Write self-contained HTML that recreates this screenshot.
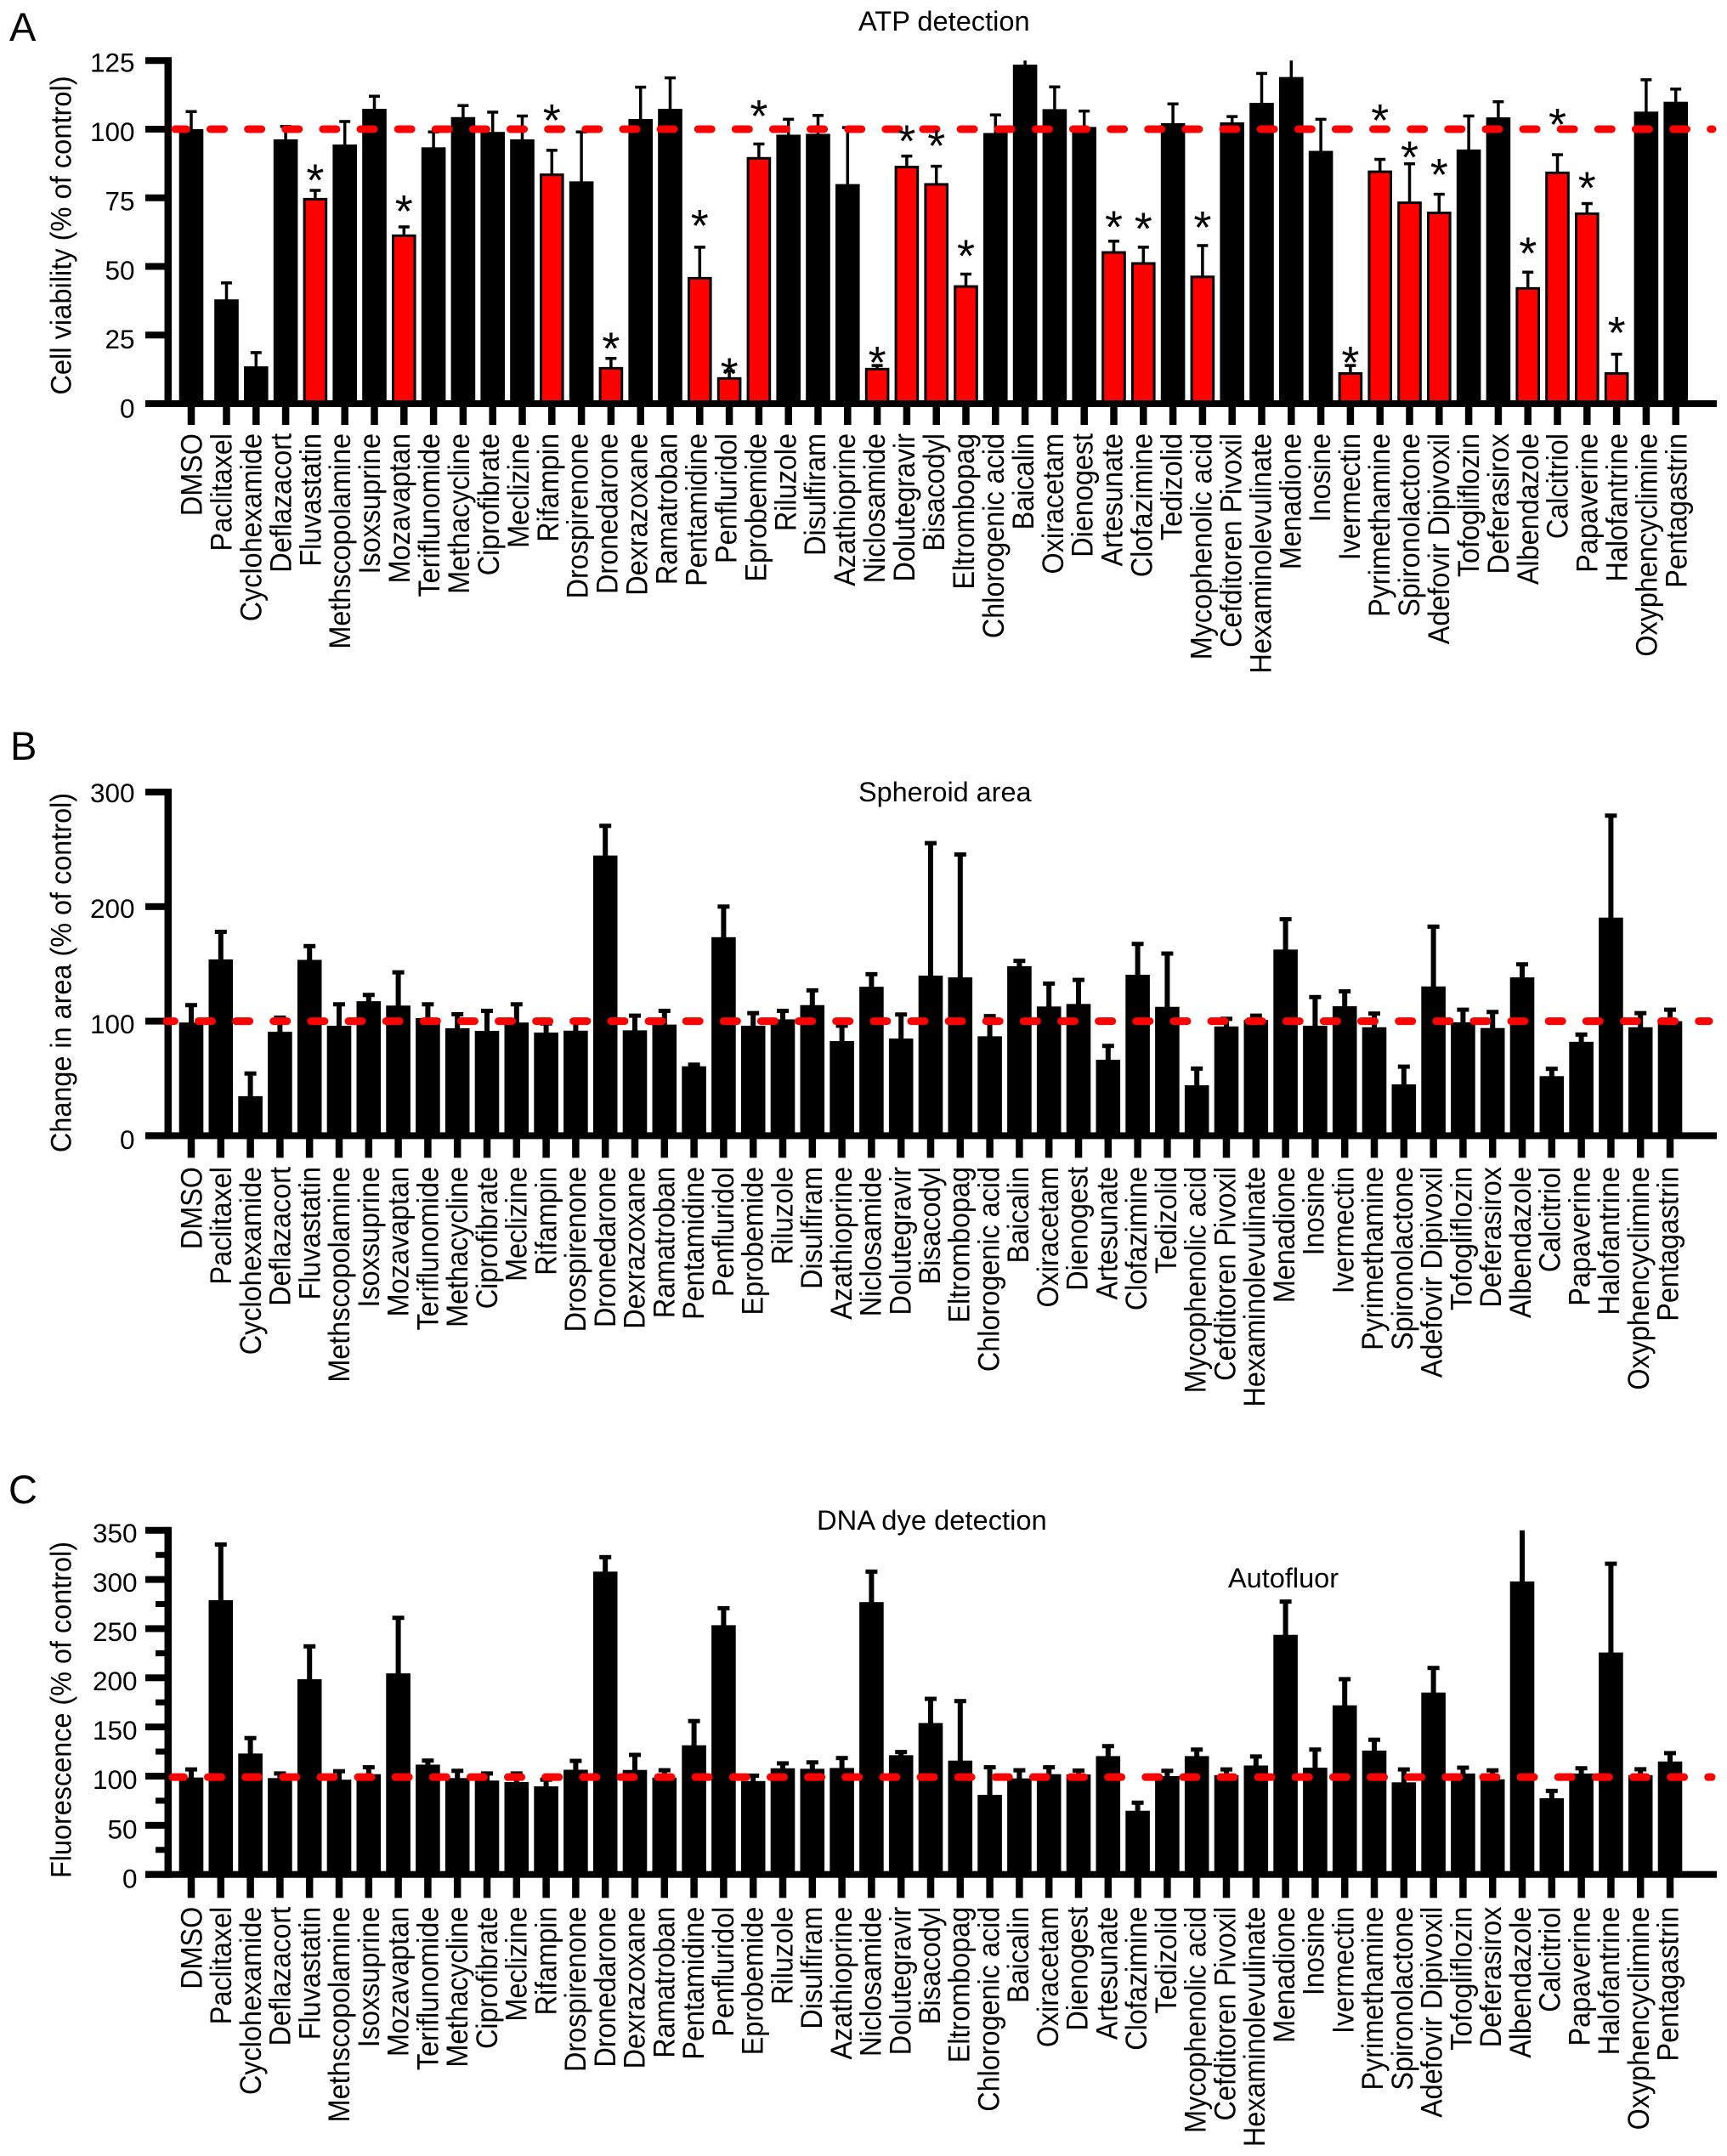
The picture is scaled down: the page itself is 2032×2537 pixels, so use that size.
<!DOCTYPE html>
<html lang="en">
<head>
<meta charset="utf-8">
<title>ATP detection, spheroid area and DNA dye detection</title>
<style>
html,body{margin:0;padding:0;background:#fff;}
svg{display:block;font-family:"Liberation Sans",Arial,sans-serif;}
</style>
</head>
<body>
<svg id="figure" xmlns="http://www.w3.org/2000/svg" width="2032" height="2537" viewBox="0 0 2032 2537">
  <rect x="0" y="0" width="2032" height="2537" fill="#fff"/>
  <text x="11" y="48" font-size="47">A</text>
  <text x="12" y="894" font-size="47">B</text>
  <text x="10" y="1769" font-size="47">C</text>
  <text x="1010" y="36" font-size="32.6">ATP detection</text>
  <text x="1010" y="943" font-size="32.4">Spheroid area</text>
  <text x="961" y="1800" font-size="32.7">DNA dye detection</text>
  <text x="1445" y="1868" font-size="32.5">Autofluor</text>
  <text transform="translate(83.5,277) rotate(-90) scale(.96,1)" text-anchor="middle" font-size="34">Cell viability (% of control)</text>
  <text transform="translate(83.5,1144.5) rotate(-90) scale(.953,1)" text-anchor="middle" font-size="34">Change in area (% of control)</text>
  <text transform="translate(83.5,2012) rotate(-90) scale(.953,1)" text-anchor="middle" font-size="34">Fluorescence (% of control)</text>
</svg>
<script>
var categories = ["DMSO","Paclitaxel","Cyclohexamide","Deflazacort","Fluvastatin","Methscopolamine","Isoxsuprine","Mozavaptan","Teriflunomide","Methacycline","Ciprofibrate","Meclizine","Rifampin","Drospirenone","Dronedarone","Dexrazoxane","Ramatroban","Pentamidine","Penfluridol","Eprobemide","Riluzole","Disulfiram","Azathioprine","Niclosamide","Dolutegravir","Bisacodyl","Eltrombopag","Chlorogenic acid","Baicalin","Oxiracetam","Dienogest","Artesunate","Clofazimine","Tedizolid","Mycophenolic acid","Cefditoren Pivoxil","Hexaminolevulinate","Menadione","Inosine","Ivermectin","Pyrimethamine","Spironolactone","Adefovir Dipivoxil","Tofogliflozin","Deferasirox","Albendazole","Calcitriol","Papaverine","Halofantrine","Oxyphencyclimine","Pentagastrin"];

var valuesA = [100,38,13.6,96.3,74.8,94.4,107.4,61.5,93.4,104.4,99,96.3,83.7,81,13.2,103.7,107.4,46,9.5,89.7,98,98.3,80,12.9,86.5,80.2,43,98.6,123.5,107.3,100.8,55.4,51.4,102.2,46.5,102.5,109.6,119,92.1,11.3,84.8,73.5,69.8,92.6,104.3,42.3,84.4,69.5,11.3,106.4,110];
var errorTopA = [106.4,44,18.6,101,77.7,102.8,112,64.4,99,108.6,106.2,104.8,92.3,99,16.5,115.3,118.7,57,11.9,94.6,103.6,105,100.6,13.9,90.2,86.5,47.2,105.2,125,115.4,106.6,59.2,57,109.2,57.6,104.6,120.3,125,103.6,13.9,89,87.4,76.3,104.8,110,47.9,90.7,72.9,18,118,114.6];
var starLevelA = [null,null,null,null,83.5,null,null,72.2,null,null,null,null,105.2,null,22.2,null,null,66.8,12.9,106.8,null,null,null,17,97.7,96,55.9,null,null,null,null,66.4,65.8,null,66.3,null,null,null,null,17,105.2,91.8,85.5,null,null,56.8,103.7,80.7,27.9,null,null];
var ticksA = [0,25,50,75,100,125];

var valuesB = [98.8,153.9,34.5,90.7,153.5,96,117.4,113.6,102.7,93.8,91.5,98.8,90,91.7,244.6,92,97,60.6,173.3,96,101.6,114,82.6,130,84.8,139.7,138.2,86.8,148,112.8,115,66.3,140.5,112.5,44,95.4,101,162.5,96,113,94.7,44.8,130.3,99,94,138.2,52,82,190.4,94.7,100];
var errorTopB = [114,178,54.3,103,165.5,114.7,122.9,142.6,114.7,106,109,114.7,98,100,270.5,104.8,109,62,200,107,109,126.9,96,141,105.8,255.4,245.5,104.4,152.6,132.8,136,78.4,167.4,159,58.6,102,104.8,189,121,126,106.6,60.3,182.5,110,108,149.6,58.4,88.3,279.4,107,110];
var ticksB = [0,100,200,300];

var valuesC = [98.6,279,123,98,198.6,96.4,102,204.5,111.7,98,95.5,94,89.6,106.5,308,106.3,98.5,131.4,253.5,95,108,107.5,108.3,277,121.3,154,115.8,81,97.7,102,101.7,120.4,64.8,100,120.4,101,110.8,243.7,108.6,172,126,93.7,185,102.7,96.8,298,77.5,102.7,225.7,101,114.9];
var errorTopC = [106.8,335.6,138.7,102.7,232,105,109,261,115.8,105.4,102.7,102.7,96.4,115.5,322.7,121.6,106,156,270.8,100.5,113,114,118.4,308,124.5,178.6,176.3,109,106,109,105.7,130.5,73,105.4,127,106.8,120,277.5,127,198.6,137,106.8,210,108.6,105.9,350,85,108,316,107,123.4];
var ticksC = [0,50,100,150,200,250,300,350];
var minorTicksC = [25,75,125,175,225,275,325];

var referenceA = 100;
var referenceB = 100;
var referenceC = 99;

var NS = 'http://www.w3.org/2000/svg';
var svg = document.getElementById('figure');

function make(tag, parent) {
  var el = document.createElementNS(NS, tag);
  parent.appendChild(el);
  return el;
}
function setRect(el, x, y, w, h, fill) {
  el.setAttribute('x', x);
  el.setAttribute('y', y);
  el.setAttribute('width', w);
  el.setAttribute('height', h);
  el.setAttribute('fill', fill);
}

function drawPanel(p) {
  var group = make('g', svg);
  
  

  var yAt = function (v) { return p.y0 - v * p.scale; };
  var barWidth = 28.6;

  // bars and error bars
  p.values.forEach(function (v, i) {
    var cx = p.xAt(i);
    var top = yAt(v);
    var isHit = p.stars && p.stars[i] !== null;

    var stemTop = yAt(p.errorTop[i]);
    var stem = make('rect', group);
    
    
    setRect(stem, cx - p.stem / 2, stemTop, p.stem, top - stemTop + 2, '#000');

    if (p.errorTop[i] < p.max) {
      var cap = make('rect', group);
      
      
      setRect(cap, cx - p.capWidth / 2, stemTop - p.capThick / 2, p.capWidth, p.capThick, '#000');
    }

    var bar = make('rect', group);
    
    
    if (isHit) {
      setRect(bar, cx - barWidth / 2 + 1.5, top + 1, barWidth - 3, p.y0 - top, '#ff0000');
      bar.setAttribute('stroke', '#000');
      bar.setAttribute('stroke-width', '3');
    } else {
      setRect(bar, cx - barWidth / 2, top, barWidth, p.y0 - top, '#000');
    }

    var xTick = make('rect', group);
    
    
    setRect(xTick, cx - 4.25, p.y0, 8.5, p.xTickLen, '#000');

    var label = make('text', group);
    
    
    var lx = 237.5 + i * p.labelStep;
    label.setAttribute('transform', 'translate(' + lx + ',' + p.labelTop + ') rotate(-90) scale(.925,1)');
    label.setAttribute('text-anchor', 'end');
    label.setAttribute('font-size', '35');
    label.textContent = categories[i];
  });

  // axes
  var yAxis = make('rect', group);
  
  
  setRect(yAxis, 193.5, yAt(p.max) - 4, 8.5, p.y0 - yAt(p.max) + 8, '#000');

  var xAxis = make('rect', group);
  
  
  setRect(xAxis, 171, p.y0 - 4, 2020 - 171, 8, '#000');

  p.ticks.forEach(function (t) {
    var tick = make('rect', group);
    
    
    setRect(tick, 171, yAt(t) - 4, 24, 8, '#000');

    var tl = make('text', group);
    
    
    tl.setAttribute('x', p.tickLabelRight);
    tl.setAttribute('y', p.labelBase - t * p.labelScale);
    tl.setAttribute('text-anchor', 'end');
    tl.setAttribute('font-size', '31.5');
    tl.textContent = String(t);
  });

  (p.minor || []).forEach(function (t) {
    var minor = make('rect', group);
    
    
    setRect(minor, 183, yAt(t) - 3.5, 12, 7, '#000');
  });

  // reference line
  var line = make('line', group);
  
  
  var ry = yAt(p.reference);
  line.setAttribute('x1', p.dashX1);
  line.setAttribute('x2', p.dashX2);
  line.setAttribute('y1', ry);
  line.setAttribute('y2', ry);
  line.setAttribute('stroke', '#ff0000');
  line.setAttribute('stroke-width', '9');
  line.setAttribute('stroke-linecap', 'round');
  line.setAttribute('stroke-dasharray', '16 28.13');
  line.setAttribute('stroke-dashoffset', p.dashOffset);

  // significance stars
  if (p.stars) {
    p.stars.forEach(function (s, i) {
      if (s === null) return;
      var star = make('text', group);
      
      
      star.setAttribute('x', p.xAt(i));
      star.setAttribute('y', yAt(s) + 25);
      star.setAttribute('text-anchor', 'middle');
      star.setAttribute('font-size', '54');
      star.textContent = '*';
    });
  }
}

function xPanelA(i) { return i === 0 ? 225 : 266.5 + 34.8 * (i - 1); }
function xPanelBC(i) { return 225 + 34.8 * i; }

drawPanel({ id: 'a', values: valuesA, errorTop: errorTopA, stars: starLevelA, ticks: ticksA, max: 125,
  reference: referenceA, y0: 475, scale: 3.23, xAt: xPanelA, stem: 3.5, capWidth: 13, capThick: 3.5,
  xTickLen: 25, labelStep: 34.94, labelTop: 510, tickLabelRight: 158.5, labelBase: 491.6, labelScale: 3.255,
  dashX1: 206, dashX2: 2015, dashOffset: 2.63 });

drawPanel({ id: 'b', values: valuesB, errorTop: errorTopB, ticks: ticksB, max: 300,
  reference: referenceB, y0: 1336.4, scale: 1.348, xAt: xPanelBC, stem: 6, capWidth: 14, capThick: 5,
  xTickLen: 26, labelStep: 34.74, labelTop: 1373, tickLabelRight: 158.5, labelBase: 1352, labelScale: 1.36,
  dashX1: 196, dashX2: 2011, dashOffset: 6.63 });

drawPanel({ id: 'c', values: valuesC, errorTop: errorTopC, ticks: ticksC, minor: minorTicksC, max: 350,
  reference: referenceC, y0: 2205.7, scale: 1.157, xAt: xPanelBC, stem: 6, capWidth: 14, capThick: 5,
  xTickLen: 27.6, labelStep: 34.74, labelTop: 2243.7, tickLabelRight: 161.5, labelBase: 2221.3, labelScale: 1.161,
  dashX1: 203, dashX2: 2014, dashOffset: 2.63 });
</script>
</body>
</html>
